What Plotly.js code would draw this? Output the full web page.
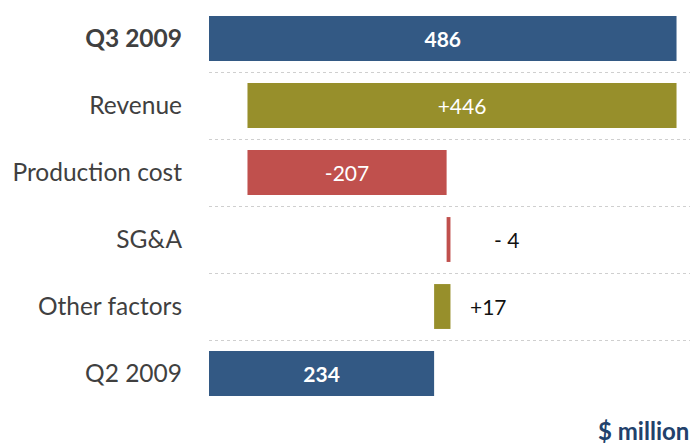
<!DOCTYPE html>
<html>
<head>
<meta charset="utf-8">
<script src="https://cdn.plot.ly/plotly-3.0.1.min.js"></script>
<style>
  html, body { margin: 0; padding: 0; background: #ffffff; }
  #chart { width: 695px; height: 447px; }
</style>
</head>
<body>
<div id="chart"></div>
<script>
// Categories bottom to top
const categories = ["Q2 2009", "Other factors", "SG&A", "Production cost", "Revenue", "Q3 2009"];
const startValue = 234;
const deltas = [17, -4, -207, 446];
const endValue = 486;
const valueLabels = ["234", "+17", "- 4", "-207", "+446", "486"];

const BLUE = "#335984", OLIVE = "#978F2B", RED = "#C0504D";

// Build waterfall bars
const bases = [0], lengths = [startValue], colors = [BLUE];
let running = startValue;
deltas.forEach(d => {
  bases.push(running);
  lengths.push(d);
  colors.push(d >= 0 ? OLIVE : RED);
  running += d;
});
bases.push(0); lengths.push(endValue); colors.push(BLUE);

const isTotal = (i) => i === 0 || i === categories.length - 1;
const small = lengths.map(v => Math.abs(v) < 50);

const texts = valueLabels.map((t, i) => isTotal(i) ? "<b>" + t + "</b>" : t);
const textpos = small.map(s => s ? "none" : "inside");

const trace = {
  type: "bar",
  orientation: "h",
  y: categories,
  x: lengths,
  base: bases,
  marker: { color: colors, line: { width: 0 } },
  text: texts,
  textposition: textpos,
  insidetextanchor: "middle",
  constraintext: "none",
  textfont: { family: "Lato, 'Open Sans', sans-serif", size: 21, color: "#ffffff" },
  hoverinfo: "skip",
  cliponaxis: false
};

const annotations = [];
categories.forEach((c, i) => {
  if (small[i]) {
    const end = Math.max(bases[i], bases[i] + lengths[i]);
    annotations.push({
      x: end, y: c, xref: "x", yref: "y",
      text: valueLabels[i], showarrow: false,
      xanchor: "left", yanchor: "middle",
      xshift: lengths[i] < 0 ? 42 : 18,
      font: { family: "Lato, 'Open Sans', sans-serif", size: 21, color: "#111111" }
    });
  }
});
annotations.push({
  x: 1, y: -0.097, xref: "paper", yref: "paper",
  text: "<b>$ million</b>", showarrow: false,
  xanchor: "right", yanchor: "bottom",
  borderpad: 0,
  font: { family: "Lato, 'Open Sans', sans-serif", size: 24, color: "#22416B" }
});

const tickText = categories.map((c, i) => i === categories.length - 1 ? "<b>" + c + "</b>" : c);

const layout = {
  width: 695, height: 447,
  margin: { l: 209, r: 5, t: 5, b: 40 },
  paper_bgcolor: "#ffffff",
  plot_bgcolor: "#ffffff",
  showlegend: false,
  bargap: 0.33,
  xaxis: {
    range: [0, 500], visible: false, showgrid: false, zeroline: false, fixedrange: true
  },
  yaxis: {
    type: "category",
    categoryorder: "array", categoryarray: categories,
    tickvals: categories, ticktext: tickText,
    range: [-0.5, 5.5], autorange: false,
    tickson: "boundaries",
    showgrid: true, gridcolor: "#CFCFCF", griddash: "dot", gridwidth: 1,
    ticks: "", showline: false, zeroline: false,
    ticklabelstandoff: 26,
    tickfont: { family: "Lato, 'Open Sans', sans-serif", size: 24.5, color: "#404040" },
    fixedrange: true
  },
  annotations: annotations
};

Plotly.newPlot("chart", [trace], layout, { displayModeBar: false, staticPlot: true });
</script>
</body>
</html>
